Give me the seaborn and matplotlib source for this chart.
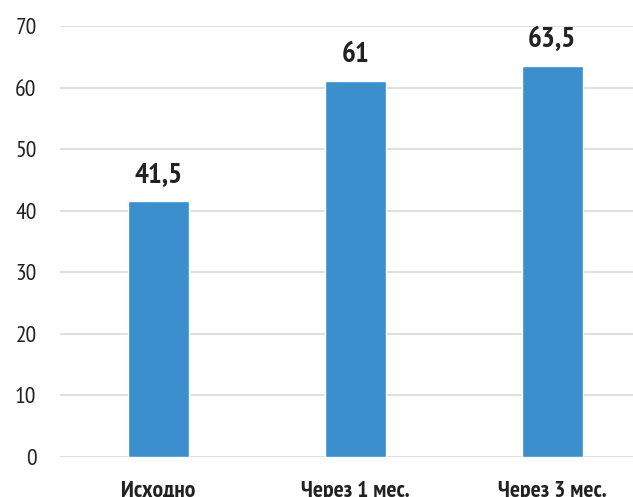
import matplotlib
matplotlib.use("Agg")
import matplotlib.pyplot as plt
import seaborn as sns
import pandas as pd

categories = ["Исходно", "Через 1 мес.", "Через 3 мес."]
values = [41.5, 61, 63.5]
value_labels = ["41,5", "61", "63,5"]
y_ticks = [0, 10, 20, 30, 40, 50, 60, 70]

sns.set_theme(style="white")
plt.rcParams["font.family"] = ["PT Sans Narrow", "DejaVu Sans"]

df = pd.DataFrame({"cat": categories, "val": values})

fig = plt.figure(figsize=(6.33, 4.97), dpi=100)
ax = fig.add_axes([60 / 633, 40 / 497, 1 - 60 / 633, 431 / 497])

sns.barplot(data=df, x="cat", y="val", color="#3a8fcc", saturation=1,
            width=0.31, ax=ax, zorder=3)

ax.set_ylim(0, 70)
ax.set_xlim(-0.5, 2.41)
ax.set_yticks(y_ticks)
ax.set_yticklabels([str(t) for t in y_ticks], fontsize=17, color="#222222")
ax.yaxis.grid(True, color="#d9d9d9", linewidth=1.2, zorder=0)
ax.xaxis.grid(False)
for s in ax.spines.values():
    s.set_visible(False)
ax.tick_params(axis="y", length=0, pad=17)
ax.tick_params(axis="x", length=0, pad=17)
ax.set_xticks(range(len(categories)))
ax.set_xticklabels(categories, fontsize=17, fontweight="bold", color="#222222")
ax.set_xlabel("")
ax.set_ylabel("")

for i, (v, lab) in enumerate(zip(values, value_labels)):
    ax.annotate(lab, (i, v), xytext=(0, 13), textcoords="offset pixels",
                ha="center", va="bottom", fontsize=21, fontweight="bold",
                color="#222222")

fig.savefig("out.png", dpi=100)
